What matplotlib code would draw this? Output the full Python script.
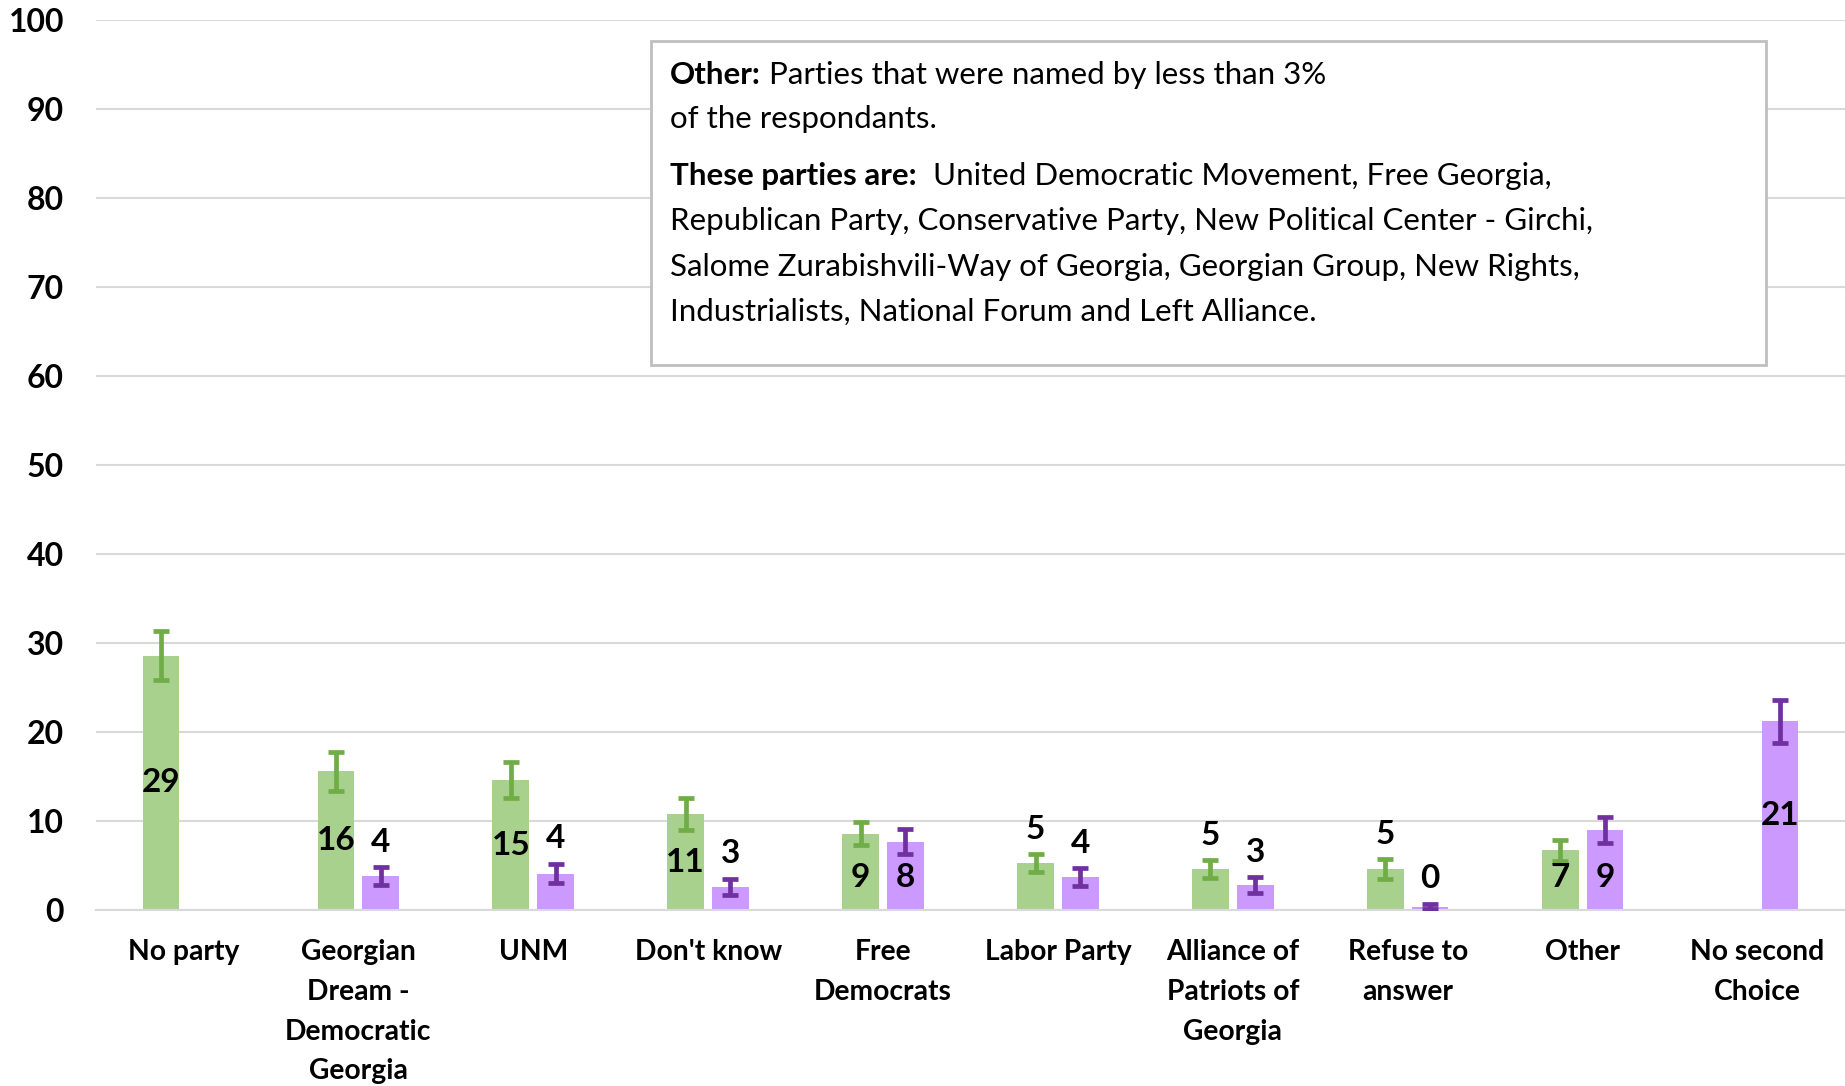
import numpy as np
import matplotlib
matplotlib.use("Agg")
import matplotlib.pyplot as plt
from matplotlib.text import Annotation

plt.rcParams['font.family'] = ['Lato', 'DejaVu Sans']

# data
categories = ["No party", "Georgian\nDream -\nDemocratic\nGeorgia", "UNM", "Don't know",
              "Free\nDemocrats", "Labor Party", "Alliance of\nPatriots of\nGeorgia",
              "Refuse to\nanswer", "Other", "No second\nChoice"]
first_choice = [28.6, 15.6, 14.6, 10.8, 8.6, 5.3, 4.6, 4.6, 6.7, np.nan]
first_err = [2.7, 2.2, 2.0, 1.8, 1.3, 1.0, 1.0, 1.1, 1.2, np.nan]
first_labels = ["29", "16", "15", "11", "9", "5", "5", "5", "7", ""]
second_choice = [np.nan, 3.8, 4.1, 2.6, 7.7, 3.7, 2.8, 0.4, 9.0, 21.2]
second_err = [np.nan, 1.0, 1.1, 0.9, 1.4, 1.0, 0.9, 0.3, 1.5, 2.4]
second_labels = ["", "4", "4", "3", "8", "4", "3", "0", "9", "21"]

green, green_dark = "#A9D18E", "#70AD47"
purple, purple_dark = "#CC99FF", "#7030A0"

fig = plt.figure(figsize=(18.45, 10.86), dpi=100)
ax = fig.add_axes([0.052, 0.162, 0.948, 0.8196])

x = np.arange(len(categories))
w = 0.21
off = 0.128

ax.bar(x - off, first_choice, w, color=green, zorder=2)
ax.bar(x + off, second_choice, w, color=purple, zorder=2)
ax.errorbar(x - off, first_choice, yerr=first_err, fmt='none', ecolor=green_dark,
            elinewidth=3.4, capsize=6, capthick=3.4, zorder=3)
ax.errorbar(x + off, second_choice, yerr=second_err, fmt='none', ecolor=purple_dark,
            elinewidth=3.4, capsize=6, capthick=3.4, zorder=3)

# value labels: inside the bar for big values, above the error bar otherwise
def put_labels(xs, vals, errs, labels):
    for xi, v, e, lab in zip(xs, vals, errs, labels):
        if not lab:
            continue
        if v >= 6.5:
            y = v / 2 if v > 9.5 else 3.7
        else:
            y = v + e + 2.8
        ax.text(xi, y, lab, ha='center', va='center', fontsize=24,
                fontweight='bold', color='black', zorder=4)

put_labels(x - off, first_choice, first_err, first_labels)
put_labels(x + off, second_choice, second_err, second_labels)

ax.set_xlim(-0.5, len(categories) - 0.5)
ax.set_ylim(0, 100)
ax.set_yticks(range(0, 101, 10))
ax.yaxis.grid(True, color='#D9D9D9', linewidth=1.5, zorder=0)
ax.set_axisbelow(True)
for s in ['top', 'right', 'left']:
    ax.spines[s].set_visible(False)
ax.spines['bottom'].set_color('#D9D9D9')
ax.spines['bottom'].set_linewidth(1.5)
ax.tick_params(axis='both', length=0)
ax.tick_params(axis='y', labelsize=23, pad=23)
ax.tick_params(axis='x', labelsize=20.3, pad=21)
for t in ax.get_yticklabels():
    t.set_fontweight('bold')
ax.set_xticks(x)
ax.set_xticklabels(categories, fontweight='bold', linespacing=1.65)

# note box
box = plt.Rectangle((651 / 1845, 1 - 365 / 1086), (1766 - 651) / 1845, (365 - 41) / 1086,
                    transform=fig.transFigure, facecolor='white', edgecolor='#BFBFBF',
                    linewidth=2, zorder=5)
fig.patches.append(box)

note_lines = [
    ("Other:", " Parties that were named by less than 3%"),
    ("", "of the respondants."),
    ("These parties are:", "  United Democratic Movement, Free Georgia,"),
    ("", "Republican Party, Conservative Party, New Political Center - Girchi,"),
    ("", "Salome Zurabishvili-Way of Georgia, Georgian Group, New Rights,"),
    ("", "Industrialists, National Forum and Left Alliance."),
]
line_y = [75, 119, 176, 221, 267, 312]
note_size = 22.5
for (bold, rest), yy in zip(note_lines, line_y):
    if bold:
        t1 = fig.text(670 / 1845, 1 - yy / 1086, bold, fontsize=note_size,
                      fontweight='bold', va='center', ha='left', zorder=6)
        fig.add_artist(Annotation(rest, xy=(1, 0), xycoords=t1, va='bottom', ha='left',
                                  fontsize=note_size, zorder=6))
    else:
        fig.text(670 / 1845, 1 - yy / 1086, rest, fontsize=note_size,
                 va='center', ha='left', zorder=6)

fig.savefig('out.png', dpi=100)
